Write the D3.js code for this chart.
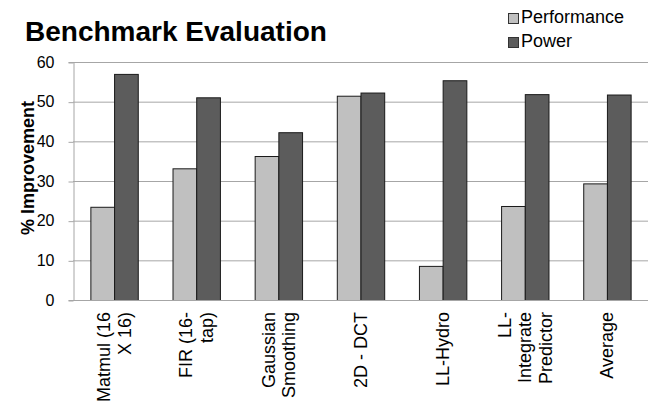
<!DOCTYPE html>
<html>
<head>
<meta charset="utf-8">
<script src="https://cdn.jsdelivr.net/npm/d3@7"></script>
<style>
  html, body { margin: 0; padding: 0; background: #fff; }
  svg { display: block; font-family: "Liberation Sans", Arial, Helvetica, sans-serif; }
</style>
</head>
<body>
<svg id="chart" width="664" height="403"></svg>
<script>
// Benchmark categories (each entry holds the wrapped label lines)
const categories = [
  ["Matmul (16", "X 16)"],
  ["FIR (16-", "tap)"],
  ["Gaussian", "Smoothing"],
  ["2D - DCT"],
  ["LL-Hydro"],
  ["LL-", "Integrate", "Predictor"],
  ["Average"]
];
const seriesNames = ["Performance", "Power"];
const performance = [23.5, 33.2, 36.3, 51.5, 8.6, 23.7, 29.4];
const power = [57.0, 51.1, 42.3, 52.3, 55.4, 51.9, 51.8];
const yTicks = [0, 10, 20, 30, 40, 50, 60];

const colors = { Performance: "#c0c0c0", Power: "#5c5c5c" };
const seriesValues = { Performance: performance, Power: power };

const svg = d3.select("#chart");
const plotLeft = 73, plotRight = 648, plotTop = 62, plotBottom = 300;

const keys = categories.map(c => c.join(" "));
const x = d3.scaleBand().domain(keys).range([plotLeft, plotRight])
  .paddingInner(0.423).paddingOuter(0.2115);
const xs = d3.scaleBand().domain(seriesNames).range([0, x.bandwidth()]);
const y = d3.scaleLinear().domain([0, 60]).range([plotBottom, plotTop]);

// Horizontal gridlines
svg.append("g").selectAll("line").data(yTicks.filter(t => t > 0)).join("line")
  .attr("x1", plotLeft).attr("x2", plotRight)
  .attr("y1", d => y(d) + 0.5).attr("y2", d => y(d) + 0.5)
  .attr("stroke", "#a6a6a6").attr("stroke-width", 1);

// Y axis
const yAxis = svg.append("g").attr("transform", `translate(${plotLeft + 0.5},0)`)
  .call(d3.axisLeft(y).tickValues(yTicks).tickSize(5).tickPadding(14));
yAxis.select(".domain").attr("stroke", "#a6a6a6");
yAxis.selectAll(".tick line").attr("stroke", "#a6a6a6").attr("transform", "translate(0,0.5)");
yAxis.selectAll(".tick text")
  .attr("font-size", 16).attr("fill", "#000")
  .attr("font-family", "Liberation Sans, Arial, sans-serif");

// Bars
const groups = svg.append("g").selectAll("g").data(keys).join("g")
  .attr("transform", d => `translate(${x(d)},0)`);
groups.selectAll("rect")
  .data((d, i) => seriesNames.map(s => ({ s, v: seriesValues[s][i] })))
  .join("rect")
  .attr("x", d => xs(d.s) + 0.5)
  .attr("y", d => y(d.v) + 0.5)
  .attr("width", xs.bandwidth())
  .attr("height", d => y(0) - y(d.v))
  .attr("fill", d => colors[d.s])
  .attr("stroke", "#1a1a1a").attr("stroke-width", 1);

// X axis baseline
svg.append("line")
  .attr("x1", plotLeft).attr("x2", plotRight)
  .attr("y1", y(0) + 0.5).attr("y2", y(0) + 0.5)
  .attr("stroke", "#a6a6a6");

// Rotated, wrapped category labels
const lineH = 20.5;
categories.forEach((lines, i) => {
  const cx = x(keys[i]) + x.bandwidth() / 2;
  const t = svg.append("text")
    .attr("transform", `translate(${cx},312) rotate(-90)`)
    .attr("text-anchor", "end")
    .attr("font-size", 18)
    .attr("fill", "#000");
  lines.forEach((ln, j) => {
    const off = (j - (lines.length - 1) / 2) * lineH;
    t.append("tspan").attr("x", 0).attr("y", off).attr("dy", "0.36em").text(ln);
  });
});

// Y axis title
svg.append("text")
  .attr("transform", "translate(34,168) rotate(-90)")
  .attr("text-anchor", "middle")
  .attr("font-size", 18).attr("font-weight", "bold")
  .text("% Improvement");

// Chart title
svg.append("text")
  .attr("x", 25).attr("y", 41)
  .attr("font-size", 28).attr("font-weight", "bold")
  .text("Benchmark Evaluation");

// Legend
const legend = svg.append("g").selectAll("g").data(seriesNames).join("g")
  .attr("transform", (d, i) => `translate(508,${13 + i * 24})`);
legend.append("rect")
  .attr("x", 0.5).attr("y", 0.5).attr("width", 10).attr("height", 10)
  .attr("fill", d => colors[d]).attr("stroke", "#333");
legend.append("text")
  .attr("x", 13).attr("y", 10)
  .attr("font-size", 18)
  .text(d => d);
</script>
</body>
</html>
